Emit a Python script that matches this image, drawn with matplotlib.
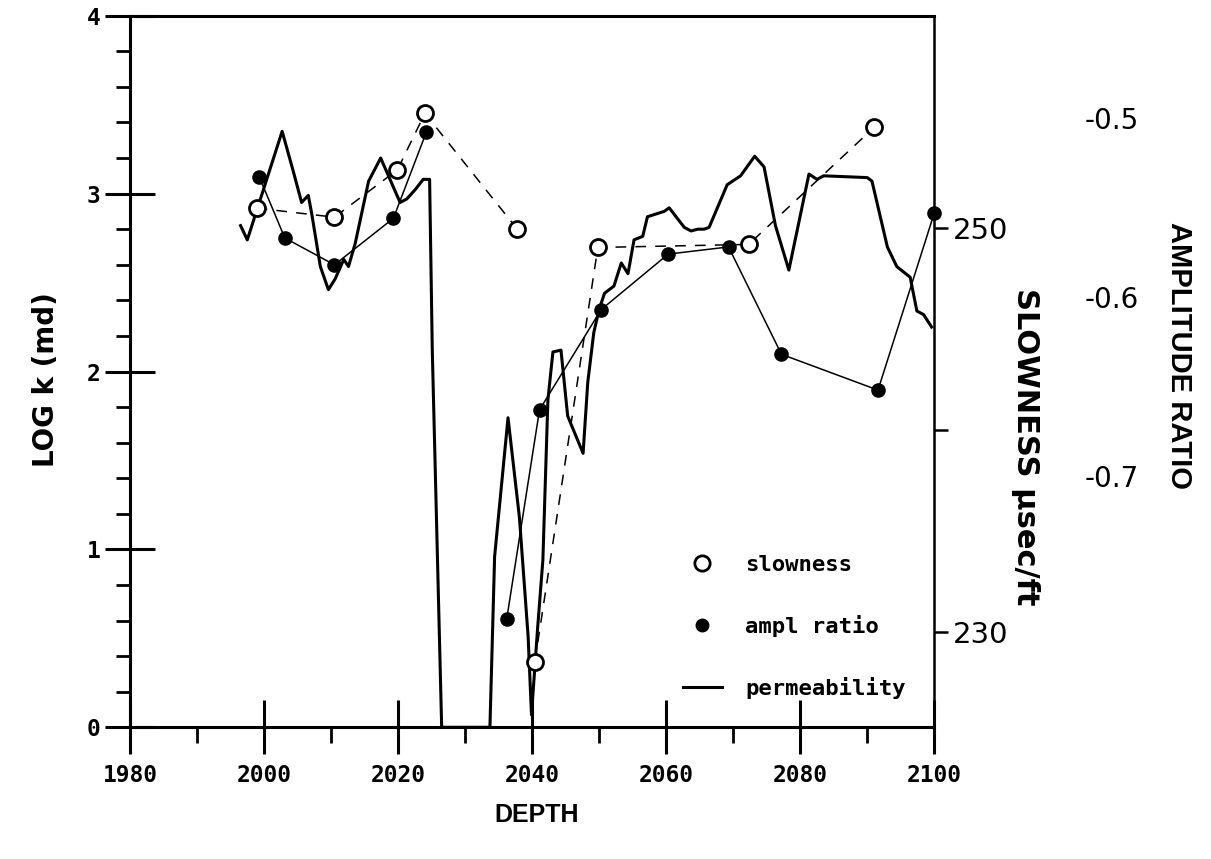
import numpy as np
import matplotlib
matplotlib.use("Agg")
import matplotlib.pyplot as plt
from matplotlib.lines import Line2D
from matplotlib.ticker import MultipleLocator
from matplotlib.font_manager import FontProperties

plt.rcParams['axes.unicode_minus'] = False
nan = np.nan

# ---------------- data ----------------
perm_depth = [1996.5, 1997.5, 2002.7, 2004.4, 2005.6, 2006.6, 2007.1, 2008.4, 2009.6, 2010.6,
              2011.9, 2012.6, 2013.6, 2015.6, 2017.4, 2020.3, 2021.3, 2022.5, 2023.75, 2024.7,
              2025.1, 2026.5, 2033.7, 2034.4, 2036.4, 2038.1, 2039.4, 2039.9, 2040.8, 2041.6,
              2042.35, 2043.1, 2044.3, 2045.3, 2047.6, 2048.3, 2049.2, 2050.0, 2050.8, 2052.2,
              2053.3, 2054.3, 2055.2, 2056.5, 2057.2, 2059.7, 2060.45, 2062.7, 2063.7, 2064.7,
              2065.65, 2066.4, 2069.1, 2071.1, 2073.2, 2074.6, 2076.3, 2078.3, 2081.3, 2082.5,
              2083.5, 2090.0, 2090.7, 2093.0, 2094.4, 2096.4, 2097.4, 2098.4, 2099.6]
perm_logk = [2.82, 2.74, 3.35, 3.12, 2.95, 2.99, 2.89, 2.59, 2.46, 2.52,
             2.63, 2.59, 2.72, 3.07, 3.20, 2.95, 2.97, 3.02, 3.08, 3.08,
             2.12, 0.0, 0.0, 0.96, 1.74, 1.18, 0.51, 0.07, 0.55, 0.94,
             1.84, 2.11, 2.12, 1.75, 1.54, 1.94, 2.22, 2.35, 2.44, 2.48,
             2.61, 2.55, 2.74, 2.76, 2.87, 2.90, 2.92, 2.81, 2.79, 2.80,
             2.80, 2.81, 3.05, 3.10, 3.21, 3.15, 2.82, 2.57, 3.11, 3.08,
             3.10, 3.09, 3.07, 2.70, 2.59, 2.53, 2.34, 2.32, 2.25]

slow_depth = [1998.9, 2010.5, 2019.9, 2024.0, 2037.8, nan, 2040.4, 2049.8, 2072.3, 2091.0]
slow_usft = [251.0, 250.55, 252.9, 255.7, 249.95, nan, 228.5, 249.05, 249.2, 255.0]

ampl_depth = [1999.3, 2003.1, 2010.5, 2019.3, 2024.2, nan, 2036.2, 2041.1, 2050.3, 2060.3,
              2069.3, 2077.2, 2091.6, 2100.0]
ampl_ratio = [-0.533, -0.567, -0.582, -0.556, -0.508, nan, -0.780, -0.663, -0.607, -0.576,
              -0.572, -0.632, -0.652, -0.553]

depth_ticks = [1980, 2000, 2020, 2040, 2060, 2080, 2100]
depth_labels = ['1980', '2000', '2020', '2040', '2060', '2080', '2100']
logk_ticks = [0, 1, 2, 3, 4]
logk_labels = ['0', '1', '2', '3', '4']
slow_ticks = [230, 240, 250]
slow_labels = ['230', '', '250']
ampl_ticks = [-0.5, -0.6, -0.7]
ampl_labels = ['-0.5', '-0.6', '-0.7']
legend_labels = ['slowness', 'ampl ratio', 'permeability']

# ---------------- figure ----------------
MONO = 'DejaVu Sans Mono'
SANS = 'Liberation Sans'
WIDE = 'DejaVu Sans'
W, H = 1211, 859
fig = plt.figure(figsize=(W / 100, H / 100), dpi=100)
L, R, T, B = 130, 934.3, 15.7, 727.3
ax = fig.add_axes([L / W, 1 - B / H, (R - L) / W, (B - T) / H])

ax.plot(perm_depth, perm_logk, color='black', lw=2.2, solid_joinstyle='round', zorder=2)
ax.set_xlim(1980, 2100)
ax.set_ylim(0, 4)

ax.set_xticks(depth_ticks, labels=depth_labels, fontfamily=MONO, fontweight='bold', fontsize=16.5)
ax.xaxis.set_minor_locator(MultipleLocator(10))
ax.tick_params(axis='x', which='major', direction='inout', length=39, width=2.2, pad=7)
ax.tick_params(axis='x', which='minor', direction='out', length=11.5, width=2.0)

ax.set_yticks(logk_ticks, labels=logk_labels, fontfamily=MONO, fontweight='bold', fontsize=16.5)
ax.yaxis.set_minor_locator(MultipleLocator(0.2))
ax.tick_params(axis='y', which='major', direction='inout', length=36, width=2.2, pad=3.5)
ax.tick_params(axis='y', which='minor', direction='out', length=10, width=2.0)

ax.spines['right'].set_visible(False)
for s in ['left', 'bottom', 'top']:
    ax.spines[s].set_linewidth(2.2)

ax.set_xlabel('DEPTH', fontfamily=SANS, fontweight='bold', fontsize=18, va='center')
ax.xaxis.set_label_coords(0.506, -0.123)
ax.set_ylabel('LOG k (md)', fontfamily=WIDE, fontweight='bold', fontsize=20, va='center')
ax.yaxis.set_label_coords(-0.104, 0.488)

# slowness axis
ax2 = ax.twinx()
ax2.plot(slow_depth, slow_usft, color='black', lw=1.1, dashes=(7, 6), marker='o', ms=11.5,
         mfc='white', mec='black', mew=2.0, zorder=3)
ax2.set_ylim(225.26, 260.54)
ax2.set_yticks(slow_ticks, labels=slow_labels, fontfamily=WIDE, fontsize=21)
ax2.tick_params(axis='y', direction='out', length=10, width=1.8, pad=3.5)
for s in ['left', 'top', 'bottom']:
    ax2.spines[s].set_visible(False)
ax2.spines['right'].set_linewidth(1.8)
ax2.set_ylabel('SLOWNESS µsec/ft', rotation=270, fontfamily=WIDE, fontweight='bold',
               fontsize=22, va='center', ha='center')
ax2.yaxis.set_label_coords(1.1128, 0.394)

# amplitude-ratio axis (labels only)
ax3 = ax.twinx()
ax3.plot(ampl_depth, ampl_ratio, color='black', lw=1.1, marker='o', ms=9.5, clip_on=False, zorder=3)
ax3.set_ylim(-0.8404, -0.4428)
ax3.set_yticks(ampl_ticks, labels=ampl_labels, fontfamily=WIDE, fontsize=20)
ax3.tick_params(axis='y', length=0, pad=108)
for s in ax3.spines.values():
    s.set_visible(False)
ax3.set_ylabel('AMPLITUDE RATIO', rotation=270, fontfamily=SANS, fontweight='bold',
               fontsize=21, va='center', ha='center')
ax3.yaxis.set_label_coords(1.3043, 0.523)

# legend
handles = [Line2D([], [], ls='none', marker='o', ms=11, mfc='white', mec='black', mew=2.0),
           Line2D([], [], ls='none', marker='o', ms=9, color='black'),
           Line2D([], [], color='black', lw=2.2)]
leg = ax3.legend(handles, legend_labels, loc='upper left', bbox_to_anchor=(0.6876, 0.242),
                 frameon=False, prop=FontProperties(family=MONO, weight='bold', size=16),
                 handlelength=1.75, handletextpad=1.05, labelspacing=1.8,
                 borderpad=0, borderaxespad=0)

fig.savefig('out.png', dpi=100)
